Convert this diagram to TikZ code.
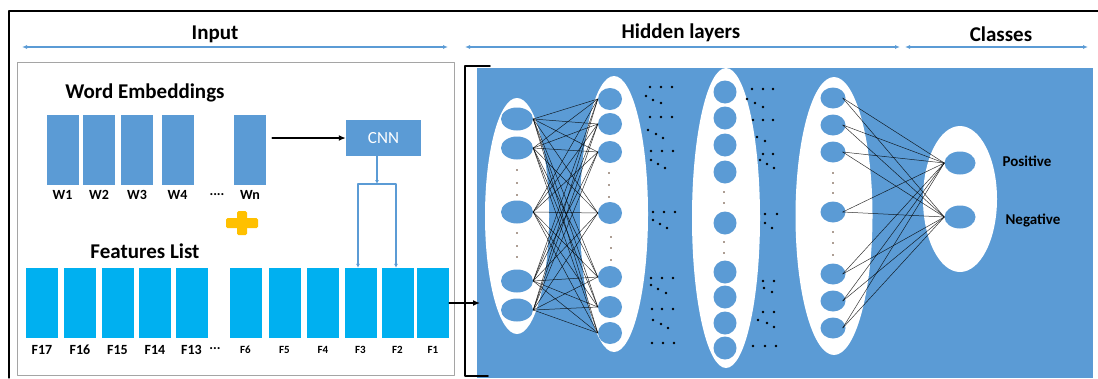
\documentclass[tikz,border=0pt]{standalone}
\usepackage{fontspec}
\setmainfont{Carlito}
\usetikzlibrary{arrows.meta}
\usetikzlibrary{positioning}
\usetikzlibrary{shapes.geometric}
\definecolor{nnblue}{RGB}{91,155,213}
\definecolor{featblue}{RGB}{0,176,240}
\definecolor{plusyellow}{RGB}{255,192,0}
\definecolor{framegray}{RGB}{165,165,165}
\definecolor{dotbrown}{RGB}{90,60,40}

\begin{document}
\begin{tikzpicture}[line cap=round,line join=round,x=1pt,y=-1pt,
  title/.style={font=\fontsize{21}{25}\selectfont\bfseries},
  span/.style={{Latex[length=5pt,width=4pt]}-{Latex[length=5pt,width=4pt]},color=nnblue,line width=1.1pt},
  wordbox/.style={rectangle,fill=nnblue,minimum width=32pt,minimum height=70pt,inner sep=0pt},
  featbox/.style={rectangle,fill=featblue,minimum width=32pt,minimum height=70pt,inner sep=0pt},
  biglbl/.style={font=\fontsize{14}{16}\selectfont\bfseries,inner sep=0pt},
  smalllbl/.style={font=\fontsize{11}{13}\selectfont\bfseries,inner sep=0pt},
  layer/.style={ellipse,fill=white,inner sep=0pt},
  neuron/.style={ellipse,fill=nnblue,inner sep=0pt},
  link/.style={black,line width=0.5pt,opacity=0.8}]
\useasboundingbox (0,0) rectangle (1098,378);
% frames
\draw[line width=1.3pt] (9,378) -- (9,11) -- (1098,11);
\draw[framegray,line width=1pt] (17,62) rectangle (454,375);
\fill[nnblue] (477,68) rectangle (1093,378);
\draw[line width=1.5pt] (490,66) -- (465,66) -- (465,376) -- (488,376);

% titles
\node[title] (tin) at (215,34) {Input};
\node[title] (thid) at (681,33) {Hidden layers};
\node[title] (tcls) at (1001,34) {Classes};
\draw[span] (22,47) -- (448,47);
\draw[span] (465,47) -- (900,47);
\draw[span] (905,47) -- (1088,47);

% word embeddings
\node[title] (wtitle) at (145,93) {Word Embeddings};
\foreach \n/\x in {1/62.5,2/99,3/137,4/177.5,n/250}
{
\node[wordbox] (w\n) at (\x,150) {};
\node[biglbl] at (\x,195) {W\n};
}
\node[biglbl] (wdots) at (217,195) {....};

\node[rectangle,fill=nnblue,minimum width=75pt,minimum height=36pt,text=white,font=\fontsize{17}{19}\selectfont] (cnn) at (383.5,138) {CNN};
\draw[-{Latex[length=7pt,width=6pt]},line width=1.5pt,shorten <=6pt] (wn.east |- cnn.west) -- (cnn.west);

% plus sign
\fill[plusyellow,rounded corners=1.5pt] (226,218) rectangle (258,228);
\fill[plusyellow,rounded corners=1.5pt] (237,211) rectangle (247,235);

% features list
\node[title] (ftitle) at (145,251) {Features List};
\foreach \n/\x in {17/42,16/80,15/117.5,14/155,13/191.5}
{
\node[featbox] (f\n) at (\x,303) {};
\node[biglbl] at (\x,350) {F\n};
}
\foreach \n/\x in {6/245.5,5/284.5,4/323,3/360.5,2/397.5,1/433}
{
\node[featbox] (f\n) at (\x,303) {};
\node[smalllbl] at (\x,350) {F\n};
}
\node[biglbl] (fdots) at (215,349) {...};

% CNN to features
\coordinate (fork) at (377,184);
\draw[nnblue,line width=1.1pt,-{Latex[length=4pt,width=4pt]}] (cnn.south -| fork) -- (fork);
\draw[nnblue,line width=1.1pt,-{Latex[length=4pt,width=4pt]}] (fork) -| ([xshift=-2.5pt]f3.north);
\draw[nnblue,line width=1.1pt,-{Latex[length=4pt,width=4pt]}] (fork) -| ([xshift=-1.5pt]f2.north);

% into the network
\coordinate (hid) at (480,303);
\draw[-{Latex[length=7pt,width=6pt]},line width=1.5pt] (f1.east) -- (hid);

% layers
\node[layer,minimum width=64pt,minimum height=236pt] (e1) at (517,216) {};
\node[layer,minimum width=68pt,minimum height=276pt] (e2) at (614,214) {};
\node[layer,minimum width=68pt,minimum height=300pt] (e3) at (726,218) {};
\node[layer,minimum width=77pt,minimum height=278pt] (e4) at (834,216) {};
\node[layer,minimum width=74pt,minimum height=146pt] (e5) at (960,199) {};

\foreach \y [count=\i] in {119,148,212,281,310}
\node[neuron,minimum width=32pt,minimum height=23pt] (a\i) at (517,\y) {};
\foreach \y [count=\i] in {99,124,152,213,277,307,333}
\node[neuron,minimum width=24pt,minimum height=22pt] (b\i) at (610,\y) {};
\foreach \y [count=\i] in {92,118,145,172,223,272,297,323,348}
\node[neuron,minimum width=23pt,minimum height=23pt] (c\i) at (725,\y) {};
\foreach \y [count=\i] in {98,125,152,212,274,301,328}
\node[neuron,minimum width=25pt,minimum height=21pt] (d\i) at (833,\y) {};
\node[neuron,minimum width=31pt,minimum height=23pt] (o1) at (960,163) {};
\node[neuron,minimum width=31pt,minimum height=23pt] (o2) at (960,217) {};
\node[font=\fontsize{15}{17}\selectfont\bfseries] (pos) at (1027,161) {Positive};
\node[font=\fontsize{15}{17}\selectfont\bfseries] (neg) at (1033,220) {Negative};

% dots inside layers
\foreach \y in {170,183,195,233,246,257} \fill[dotbrown] (517,\y) circle (0.9pt);
\foreach \y in {173,185,197} \fill[dotbrown] (609,\y) circle (0.9pt);
\foreach \y in {237,248,260} \fill[dotbrown] (611,\y) circle (0.9pt);
\foreach \y in {192,203,242,253} \fill[dotbrown] (724,\y) circle (0.9pt);
\foreach \y in {173,183,193,232,243,255} \fill[dotbrown] (833,\y) circle (0.9pt);

% dots between layers
\foreach \p in {(650,87),(661,87),(672,87),(646,96),(653,100),(661,103),
  (650,117),(661,117),(672,117),(648,130),(656,134),(663,138),
  (651,151),(662,151),(673,151),(651,160),(658,164),(665,168),
  (653,212),(664,212),(675,212),(653,220),(660,224),(667,228),
  (651,278),(662,278),(673,278),(651,285),(658,289),(666,293),
  (652,309),(662,309),(673,309),(653,320),(661,324),(668,328),
  (652,343),(663,343),(674,343)}
  \fill \p circle (1.4pt);
\foreach \p in {(752,89),(763,89),(773,89),(747,99),(755,103),(763,107),
  (753,120),(763,120),(773,120),(757,137),(765,141),
  (763,154),(773,154),(760,160),(767,164),(774,168),
  (765,214),(777,214),(765,223),(772,228),
  (763,281),(774,281),(764,288),(772,292),
  (763,312),(774,312),(758,320),(767,323),(774,327),
  (753,346),(765,346),(776,346)}
  \fill \p circle (1.4pt);

% connections
\foreach \i in {1,...,5}
  \foreach \j in {1,...,7}
    \draw[link] (a\i.east) -- (b\j.west);
\foreach \i in {1,...,7}
  \foreach \j in {1,2}
    \draw[link] ([xshift=-3pt]d\i.east) -- (o\j.west);
\end{tikzpicture}
\end{document}
